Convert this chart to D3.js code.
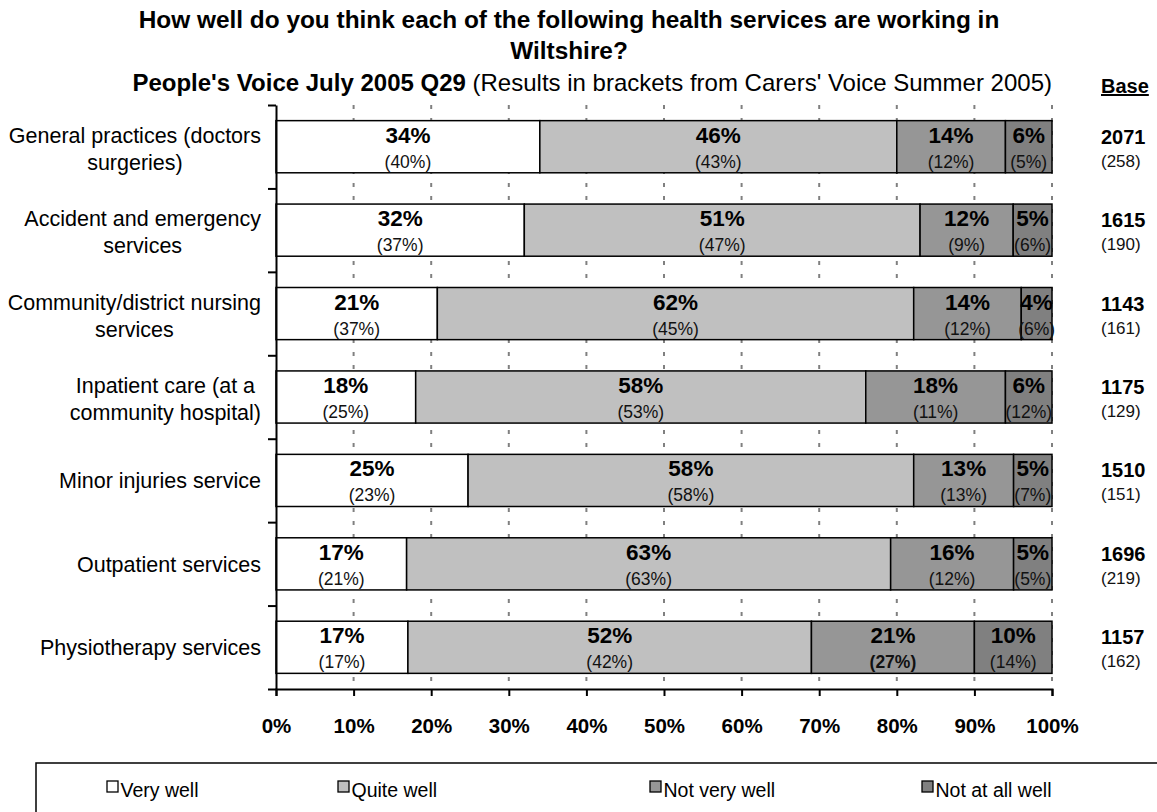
<!DOCTYPE html>
<html>
<head>
<meta charset="utf-8">
<script src="https://cdn.jsdelivr.net/npm/d3@7"></script>
<style>
  html, body { margin: 0; padding: 0; background: #fff; }
  svg { display: block; font-family: "Liberation Sans", Arial, sans-serif; }
</style>
</head>
<body>
<svg id="chart" width="1157" height="812"></svg>
<script>
// Survey results: People's Voice July 2005 Q29, with Carers' Voice Summer 2005 in brackets
const categories = [
  "General practices (doctors\nsurgeries)",
  "Accident and emergency\nservices",
  "Community/district nursing\nservices",
  "Inpatient care (at a\ncommunity hospital)",
  "Minor injuries service",
  "Outpatient services",
  "Physiotherapy services"
];
const seriesNames = ["Very well", "Quite well", "Not very well", "Not at all well"];

const veryWell     = [34, 32, 21, 18, 25, 17, 17];
const quiteWell    = [46, 51, 62, 58, 58, 63, 52];
const notVeryWell  = [14, 12, 14, 18, 13, 16, 21];
const notAtAllWell = [6, 5, 4, 6, 5, 5, 10];

const carersVeryWell     = [40, 37, 37, 25, 23, 21, 17];
const carersQuiteWell    = [43, 47, 45, 53, 58, 63, 42];
const carersNotVeryWell  = [12, 9, 12, 11, 13, 12, 27];
const carersNotAtAllWell = [5, 6, 6, 12, 7, 5, 14];

const baseCounts   = [2071, 1615, 1143, 1175, 1510, 1696, 1157];
const carersBase   = [258, 190, 161, 129, 151, 219, 162];

const xTickValues = [0, 10, 20, 30, 40, 50, 60, 70, 80, 90, 100];

// bracketed carers' figures printed in bold: [row, series]
const boldCarerCells = [[6, 2]];

const fills = ["#ffffff", "#c0c0c0", "#969696", "#808080"];

const svg = d3.select("#chart");

// plot geometry
const plotLeft = 276, plotRight = 1052, plotTop = 105, plotBottom = 689;

const x = d3.scaleLinear().domain([0, 100]).range([plotLeft, plotRight]);
const y = d3.scaleBand().domain(categories).range([plotTop, plotBottom])
  .paddingInner(0.375).paddingOuter(0.1875);
const yEdge = d3.scaleLinear().domain([0, categories.length]).range([plotTop, plotBottom]);
const color = d3.scaleOrdinal().domain(seriesNames).range(fills);

// rows: each bar normalised to 100% (percent-stacked)
const peopleSeries = [veryWell, quiteWell, notVeryWell, notAtAllWell];
const carerSeries = [carersVeryWell, carersQuiteWell, carersNotVeryWell, carersNotAtAllWell];
const rows = categories.map((c, i) => {
  const vals = peopleSeries.map(s => s[i]);
  const total = d3.sum(vals);
  let acc = 0;
  const segs = vals.map((v, k) => {
    const x0 = acc / total * 100;
    acc += v;
    const x1 = acc / total * 100;
    return { row: i, k, name: seriesNames[k], value: v, carer: carerSeries[k][i], x0, x1 };
  });
  return { category: c, segs };
});

// gridlines (dashed) behind the bars
svg.append("g").selectAll("line")
  .data(xTickValues.filter(d => d > 0))
  .join("line")
  .attr("x1", d => x(d)).attr("x2", d => x(d))
  .attr("y1", plotTop).attr("y2", plotBottom)
  .attr("stroke", "#808080").attr("stroke-width", 2)
  .attr("stroke-dasharray", "4,9");

// bars
const rowG = svg.append("g").selectAll("g")
  .data(rows).join("g");

rowG.selectAll("rect")
  .data(d => d.segs)
  .join("rect")
  .attr("x", d => x(d.x0))
  .attr("y", d => y(categories[d.row]))
  .attr("width", d => x(d.x1) - x(d.x0))
  .attr("height", y.bandwidth())
  .attr("fill", d => color(d.name))
  .attr("stroke", "#000")
  .attr("stroke-width", 1.5);

// value labels
rowG.selectAll("text.main")
  .data(d => d.segs)
  .join("text")
  .attr("class", "main")
  .attr("x", d => (x(d.x0) + x(d.x1)) / 2)
  .attr("y", d => y(categories[d.row]) + y.bandwidth() / 2 - 4)
  .attr("text-anchor", "middle")
  .attr("font-size", 22.5)
  .attr("font-weight", "bold")
  .attr("fill", "#000")
  .text(d => d.value + "%");

rowG.selectAll("text.carer")
  .data(d => d.segs)
  .join("text")
  .attr("class", "carer")
  .attr("x", d => (x(d.x0) + x(d.x1)) / 2)
  .attr("y", d => y(categories[d.row]) + y.bandwidth() / 2 + 21)
  .attr("text-anchor", "middle")
  .attr("font-size", 17.5)
  .attr("font-weight", d => boldCarerCells.some(([r, k]) => r === d.row && k === d.k) ? "bold" : "normal")
  .attr("fill", "#111")
  .text(d => "(" + d.carer + "%)");

// x axis
const xAxis = svg.append("g")
  .attr("transform", `translate(0,${plotBottom})`)
  .call(d3.axisBottom(x).tickValues(xTickValues).tickSize(7).tickPadding(22)
    .tickFormat(d => d + "%"));
xAxis.select(".domain").attr("stroke", "#000").attr("stroke-width", 2);
xAxis.selectAll(".tick line").attr("stroke", "#000").attr("stroke-width", 2);
xAxis.selectAll(".tick text")
  .attr("font-size", 20.5).attr("font-weight", "bold")
  .attr("font-family", "Liberation Sans, Arial, sans-serif").attr("fill", "#000");

// y axis: ticks on the category boundaries
const yAxis = svg.append("g")
  .attr("transform", `translate(${plotLeft},0)`)
  .call(d3.axisLeft(yEdge).tickValues(d3.range(categories.length + 1)).tickSize(8)
    .tickFormat("").tickSizeOuter(0));
yAxis.select(".domain").attr("stroke", "#000").attr("stroke-width", 2);
yAxis.selectAll(".tick line").attr("stroke", "#000").attr("stroke-width", 2);

// category labels: block right-aligned, lines centred within the block
const labelRight = 261;
categories.forEach((c, i) => {
  const lines = c.split("\n");
  const cy = y(c) + y.bandwidth() / 2;
  const t = svg.append("text")
    .attr("font-size", 21.5).attr("fill", "#000").attr("text-anchor", "middle");
  const spans = lines.map(ln => t.append("tspan").text(ln));
  const maxW = d3.max(spans, s => s.node().getComputedTextLength());
  const cx = labelRight - maxW / 2;
  spans.forEach((s, j) => {
    s.attr("x", cx)
     .attr("y", lines.length === 1 ? cy + 8 : cy - 4 + j * 27);
  });
});

// base counts
const baseX = 1101;
svg.append("text")
  .attr("x", baseX).attr("y", 93)
  .attr("font-size", 20).attr("font-weight", "bold")
  .attr("text-decoration", "underline")
  .text("Base");
categories.forEach((c, i) => {
  const cy = y(c) + y.bandwidth() / 2;
  svg.append("text").attr("x", baseX).attr("y", cy - 3)
    .attr("font-size", 20).attr("font-weight", "bold").text(baseCounts[i]);
  svg.append("text").attr("x", baseX).attr("y", cy + 20)
    .attr("font-size", 17).attr("fill", "#111").text("(" + carersBase[i] + ")");
});

// title
const title = svg.append("g").attr("font-weight", "bold").attr("font-size", 24.4)
  .attr("text-anchor", "middle");
title.append("text").attr("x", 569).attr("y", 28)
  .text("How well do you think each of the following health services are working in");
title.append("text").attr("x", 569).attr("y", 59).text("Wiltshire?");

const sub = svg.append("text").attr("x", 1052).attr("y", 91)
  .attr("text-anchor", "end").attr("font-size", 24);
sub.append("tspan").attr("font-weight", "bold").text("People's Voice July 2005 Q29");
sub.append("tspan").text(" (Results in brackets from Carers' Voice Summer 2005)");

// legend
const legend = svg.append("g");
legend.append("rect")
  .attr("x", 36).attr("y", 763).attr("width", 1200).attr("height", 100)
  .attr("fill", "none").attr("stroke", "#000").attr("stroke-width", 1.5);
const legendX = [107, 338, 650, 922];
seriesNames.forEach((n, k) => {
  legend.append("rect")
    .attr("x", legendX[k]).attr("y", 781).attr("width", 11).attr("height", 11)
    .attr("fill", color(n)).attr("stroke", "#000").attr("stroke-width", 1.3);
  legend.append("text")
    .attr("x", legendX[k] + 13.5).attr("y", 797)
    .attr("font-size", 19.5).attr("fill", "#000").text(n);
});
</script>
</body>
</html>
